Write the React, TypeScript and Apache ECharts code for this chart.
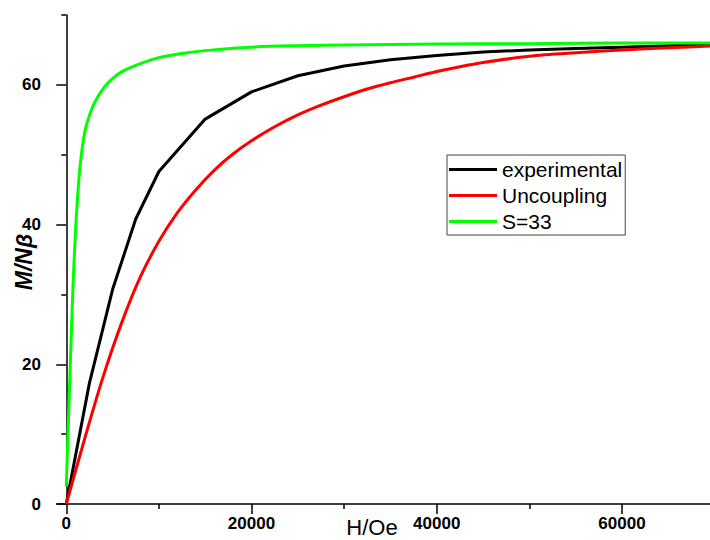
import React, { useEffect, useRef } from "react";
import * as echarts from "echarts";

// H (Oe) and M/Nβ values
const experimentalH = [0, 2500, 5000, 7500, 10000, 15000, 20000, 25000, 30000, 35000, 40000, 45000, 50000, 55000, 60000, 65000, 70000];
const experimentalM = [0, 17.3, 30.7, 40.8, 47.6, 55.1, 59.0, 61.3, 62.7, 63.6, 64.2, 64.7, 65.0, 65.2, 65.4, 65.6, 65.7];

const uncouplingH = [0, 2000, 4000, 6000, 8000, 10000, 12000, 14000, 16000, 18000, 20000, 22500, 25000, 27500, 30000, 32500, 35000, 37500, 40000, 42500, 45000, 50000, 55000, 60000, 65000, 70000];
const uncouplingM = [0, 9.4, 18.3, 26.0, 32.5, 37.6, 41.7, 45.0, 47.8, 50.1, 52.0, 54.0, 55.7, 57.1, 58.3, 59.4, 60.3, 61.1, 61.9, 62.6, 63.2, 64.1, 64.6, 65.0, 65.3, 65.6];

const s33H = [0, 200, 400, 600, 800, 1000, 1200, 1500, 2000, 2500, 3000, 4000, 5000, 6000, 7500, 10000, 12500, 15000, 20000, 25000, 30000, 40000, 50000, 60000, 70000];
const s33M = [2.5, 10.5, 18.5, 26.5, 33.5, 39.0, 43.5, 48.5, 53.3, 55.6, 57.3, 59.5, 60.9, 61.9, 62.8, 63.9, 64.5, 64.9, 65.4, 65.6, 65.7, 65.85, 65.9, 66.0, 66.0];

const seriesNames = ["experimental", "Uncoupling", "S=33"];
const xMajorTicks = [0, 20000, 40000, 60000];
const xMinorTicks = [10000, 30000, 50000];
const yMajorTicks = [0, 20, 40, 60];
const yMinorTicks = [10, 30, 50, 70];

const zip = (xs: number[], ys: number[]) => xs.map((x, i) => [x, ys[i]]);

export default function App() {
  const ref = useRef<HTMLDivElement>(null);
  useEffect(() => {
    if (!ref.current) return;
    const chart = echarts.init(ref.current, null, { renderer: "svg" });
    const font = "Arial, 'Liberation Sans', sans-serif";
    const xBase = {
      type: "value",
      min: -1000,
      max: 69500,
      splitLine: { show: false },
    };
    const yBase = {
      type: "value",
      min: 0,
      max: 70,
      splitLine: { show: false },
    };
    chart.setOption({
      animation: false,
      backgroundColor: "#ffffff",
      grid: { left: 57, right: 0, top: 15, bottom: 36, containLabel: false },
      xAxis: [
        {
          ...xBase,
          axisLine: { show: true, lineStyle: { color: "#000", width: 1.5 } },
          axisTick: { show: true, length: 10, customValues: xMajorTicks, lineStyle: { color: "#000", width: 1.5 } },
          axisLabel: {
            customValues: xMajorTicks,
            margin: 11,
            color: "#000",
            fontWeight: "bold",
            fontSize: 17,
            fontFamily: font,
            formatter: (v: number) => String(v),
          },
        },
        {
          ...xBase,
          position: "bottom",
          axisLine: { show: false },
          axisTick: { show: true, length: 5, customValues: xMinorTicks, lineStyle: { color: "#000", width: 1.5 } },
          axisLabel: { show: false },
        },
      ],
      yAxis: [
        {
          ...yBase,
          axisLine: { show: true, lineStyle: { color: "#000", width: 1.5 } },
          axisTick: { show: true, length: 10, customValues: yMajorTicks, lineStyle: { color: "#000", width: 1.5 } },
          axisLabel: {
            customValues: yMajorTicks,
            margin: 16,
            color: "#000",
            fontWeight: "bold",
            fontSize: 17,
            fontFamily: font,
          },
        },
        {
          ...yBase,
          position: "left",
          axisLine: { show: false },
          axisTick: { show: true, length: 5, customValues: yMinorTicks, lineStyle: { color: "#000", width: 1.5 } },
          axisLabel: { show: false },
        },
      ],
      legend: {
        orient: "vertical",
        left: 447,
        top: 155,
        data: seriesNames,
        icon: "rect",
        itemWidth: 48,
        itemHeight: 3,
        itemGap: 5,
        padding: [4, 3, 3, 2],
        borderColor: "#444",
        borderWidth: 1,
        backgroundColor: "#fff",
        textStyle: { fontSize: 21, fontFamily: font, color: "#000", lineHeight: 20 },
      },
      graphic: [
        {
          type: "text",
          x: 372,
          y: 527,
          style: {
            text: "H/Oe",
            font: "22px Arial, 'Liberation Sans', sans-serif",
            fill: "#000",
            textAlign: "center",
            textVerticalAlign: "middle",
          },
        },
        {
          type: "text",
          x: 24,
          y: 262,
          rotation: Math.PI / 2,
          style: {
            text: "M/Nβ",
            font: "italic bold 23px Arial, 'Liberation Sans', sans-serif",
            fill: "#000",
            textAlign: "center",
            textVerticalAlign: "middle",
          },
        },
      ],
      series: [
        {
          name: seriesNames[0],
          type: "line",
          data: zip(experimentalH, experimentalM),
          showSymbol: false,
          symbol: "none",
          color: "#000000",
          lineStyle: { color: "#000000", width: 3 },
        },
        {
          name: seriesNames[1],
          type: "line",
          data: zip(uncouplingH, uncouplingM),
          showSymbol: false,
          symbol: "none",
          smooth: 0.3,
          color: "#ff0000",
          lineStyle: { color: "#ff0000", width: 3 },
        },
        {
          name: seriesNames[2],
          type: "line",
          data: zip(s33H, s33M),
          showSymbol: false,
          symbol: "none",
          smooth: 0.3,
          color: "#00ff00",
          lineStyle: { color: "#00ff00", width: 3 },
        },
      ],
    });
    return () => chart.dispose();
  }, []);
  return (
    <div
      ref={ref}
      style={{ position: "absolute", left: 0, top: 0, width: 710, height: 540 }}
    />
  );
}
